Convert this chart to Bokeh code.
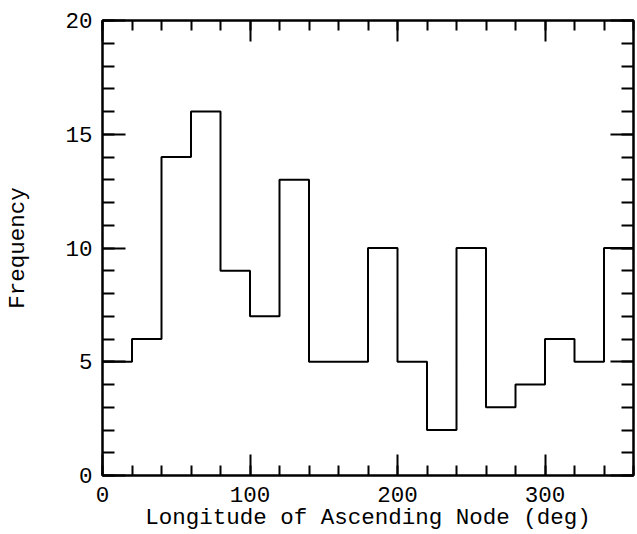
from bokeh.plotting import figure
from bokeh.models import LinearAxis, SingleIntervalTicker, CustomJSTickFormatter, Range1d
from bokeh.embed import file_html
from bokeh.resources import INLINE

# Data
bin_edges = [0, 20, 40, 60, 80, 100, 120, 140, 160, 180, 200, 220, 240, 260, 280, 300, 320, 340, 360]
frequency = [5, 6, 14, 16, 9, 7, 13, 5, 5, 10, 5, 2, 10, 3, 4, 6, 5, 10]
x_label = "Longitude of Ascending Node (deg)"
y_label = "Frequency"

FONT = "Liberation Mono"

p = figure(width=637, height=534, output_backend="svg", toolbar_location=None,
           x_range=Range1d(0, 360), y_range=Range1d(0, 20),
           min_border_left=102, min_border_right=4, min_border_top=20, min_border_bottom=59,
           x_axis_label=x_label, y_axis_label=y_label)

p.xgrid.visible = False
p.ygrid.visible = False
p.outline_line_color = "black"
p.outline_line_width = 2
p.background_fill_color = "white"
p.border_fill_color = "white"

# step outline of histogram
p.step(x=bin_edges, y=frequency + [frequency[-1]], mode="after", line_color="black", line_width=2)

def style_axis(ax, major_len, minor_len, show_labels=True):
    ax.axis_line_color = "black"
    ax.axis_line_width = 2
    ax.major_tick_in = major_len
    ax.major_tick_out = 0
    ax.minor_tick_in = minor_len
    ax.minor_tick_out = 0
    ax.major_tick_line_width = 2
    ax.minor_tick_line_width = 2
    ax.major_tick_line_color = "black"
    ax.minor_tick_line_color = "black"
    ax.major_label_text_font = FONT
    ax.major_label_text_font_size = "22.5px"
    ax.major_label_text_color = "black"
    ax.axis_label_text_font = FONT
    ax.axis_label_text_font_size = "22.5px"
    ax.axis_label_text_font_style = "normal"
    ax.axis_label_text_color = "black"
    if not show_labels:
        ax.formatter = CustomJSTickFormatter(code="return '';")
        ax.major_label_standoff = 0

xt = SingleIntervalTicker(interval=100, num_minor_ticks=5)
yt = SingleIntervalTicker(interval=5, num_minor_ticks=5)

p.xaxis.ticker = xt
p.yaxis.ticker = yt
style_axis(p.xaxis[0], 21, 10)
style_axis(p.yaxis[0], 23, 12)
p.xaxis[0].major_label_standoff = 11
p.xaxis[0].axis_label_standoff = 0
p.yaxis[0].major_label_standoff = 10
p.yaxis[0].axis_label_standoff = 31

top = LinearAxis(ticker=SingleIntervalTicker(interval=100, num_minor_ticks=5))
style_axis(top, 21, 10, show_labels=False)
p.add_layout(top, "above")
right = LinearAxis(ticker=SingleIntervalTicker(interval=5, num_minor_ticks=5))
style_axis(right, 23, 12, show_labels=False)
p.add_layout(right, "right")

open("out.html", "w").write(file_html(p, INLINE))
